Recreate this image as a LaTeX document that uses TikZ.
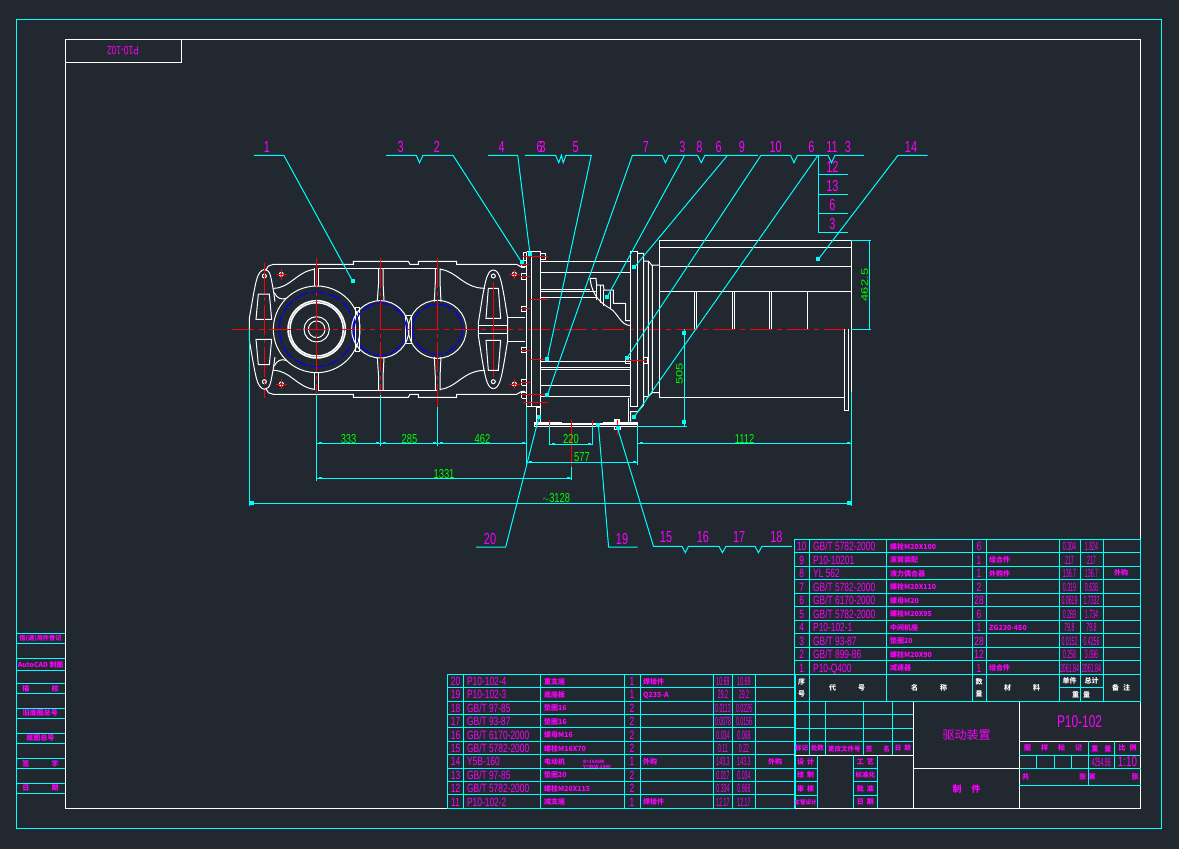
\documentclass[tikz,border=0pt]{standalone}
\usepackage{fontspec}
\setmainfont{Liberation Sans}
\newfontfamily\cjk{Noto Sans CJK SC}
\definecolor{bgc}{HTML}{212830}
\definecolor{cy}{HTML}{00FFFF}
\definecolor{mg}{HTML}{FF00FF}
\definecolor{gn}{HTML}{00FF00}
\definecolor{rd}{HTML}{FF0000}
\definecolor{bl}{HTML}{0000FF}
\tikzset{
  wh/.style={draw=white,line width=1pt},
  thk/.style={draw=white,line width=1.5pt},
  cl/.style={draw=cy,line width=1pt},
  rdl/.style={draw=rd,line width=1pt},
  cen/.style={draw=rd,line width=1pt,dash pattern=on 22pt off 5pt on 5pt off 5pt},
  bll/.style={draw=bl,line width=1.1pt,dash pattern=on 14pt off 3pt},
  zoomA/.style={shift={(240,230)},x=.33333pt,y=-.33333pt},
  zoomM/.style={shift={(240,428.667)},x=.33333pt,y=.33333pt},
  zoomB/.style={shift={(510,230)},x=.33333pt,y=-.33333pt},
  txt/.style={text=mg,inner sep=0pt,transform shape,xscale=.7,font=\fontsize{12}{12}\selectfont},
  cjt/.style={text=mg,inner sep=0pt,font=\fontsize{7}{7}\selectfont\cjk\bfseries},
  lab/.style={text=mg,inner sep=0pt,transform shape,xscale=.68,font=\fontsize{16}{16}\selectfont},
  dimt/.style={text=gn,inner sep=0pt,transform shape,xscale=.72,font=\fontsize{13}{13}\selectfont},
}
\newcommand\rowA[9]{% y no code name qty mat w1 w2 note
 \node[txt,anchor=base] (a#2) at (801.7,#1+4.5) {#2};
 \node[txt,anchor=base west] (ac#2) at (813,#1+4.5) {#3};
 \node[cjt,anchor=base west] (an#2) at (890,#1+3) {#4};
 \node[txt,anchor=base] (aq#2) at (979,#1+4.5) {#5};
 \node[cjt,anchor=base west] (am#2) at (989,#1+3) {#6};
 \node[txt,anchor=base,xscale=.62] (aw#2) at (1069.5,#1+4.5) {#7};
 \node[txt,anchor=base,xscale=.62] (ax#2) at (1091.5,#1+4.5) {#8};
 \node[cjt] (ar#2) at (1121,#1) {#9};
}
\newcommand\rowB[9]{%
 \node[txt,anchor=base] (b#2) at (455.5,#1+4.5) {#2};
 \node[txt,anchor=base west] (bc#2) at (467,#1+4.5) {#3};
 \node[cjt,anchor=base west] (bn#2) at (544,#1+3) {#4};
 \node[txt,anchor=base] (bq#2) at (632,#1+4.5) {#5};
 \node[cjt,anchor=base west] (bm#2) at (643,#1+3) {#6};
 \node[txt,anchor=base,xscale=.62] (bw#2) at (723,#1+4.5) {#7};
 \node[txt,anchor=base,xscale=.62] (bx#2) at (744,#1+4.5) {#8};
 \node[cjt] (br#2) at (775,#1) {#9};
}
\newcommand\sq[2]{\fill[cy] (#1-2,#2-2) rectangle (#1+2,#2+2);}
\newcommand\tk[2]{\fill[cy] (#1-1.5,#2-1) rectangle (#1+1.5,#2+1);}
\newcommand\gearhalf{%
 \draw[wh] (78,120)--(85,108)--(100,103)--(340,103)--(340,94)--(505,94)--(510,103)--(535,103)--(535,94)--(650,94)--(650,103)--(830,103)--(845,112)--(855,112);
 \draw[wh] (235,115)--(590,115);
 \draw[thk] (223,115)--(223,167) (236,115)--(236,167);
 \draw[wh] (416,115)--(416,155)--(412,212) (429,115)--(429,155)--(432,212);
 \draw[wh] (586,115)--(586,155)--(583,215) (600,115)--(600,155)--(603,215);
 \draw[wh] (223,118) .. controls (170,125) and (150,175) .. (100,175);
 \draw[wh] (600,118) .. controls (650,122) and (670,175) .. (735,175);
 \draw[wh] (103,188) .. controls (110,205) and (125,210) .. (138,205);
 % left foot
 \draw[wh] (73,118) .. controls (50,125) and (48,150) .. (28,265) -- (28,298);
 \draw[wh] (73,118) .. controls (92,120) and (92,140) .. (100,180) -- (105,215);
 \draw[wh] (55,192)--(88,192)--(95,268)--(48,268)--cycle;
 % right foot
 \draw[wh] (760,120) .. controls (740,122) and (735,150) .. (715,280) -- (715,298);
 \draw[wh] (760,120) .. controls (780,122) and (785,150) .. (803,265) -- (803,298);
 \draw[wh] (745,175)--(775,175)--(782,265)--(738,265)--cycle;
 \draw[wh] (715,285)--(803,285) (803,262)--(855,262);
 % links between housings
 \draw[wh] (345,298)--(345,232)--(360,232) (358,232)--(358,298);
 \draw[wh] (497,298)--(497,255)--(515,255)--(515,298);
 % lugs on the flange
 \draw[wh] (845,92)--(858,92) (845,92)--(845,108)--(858,108);
 \draw[wh] (845,130)--(845,148)--(858,148) (845,130)--(858,130);
 \draw[wh] (845,228)--(845,243)--(858,243) (845,228)--(858,228);
 % bolts
 \draw[rdl] (843,103)--(868,103) (843,140)--(868,140) (843,235)--(868,235);
 \draw[rdl] (850,78)--(900,78);
}
\begin{document}
\begin{tikzpicture}[x=1pt,y=-1pt]
\useasboundingbox (0,0) rectangle (1179,849);
\fill[bgc] (0,0) rectangle (1179,849);
% frames
\draw[cl] (16,19) rectangle (1161,828);
\draw[wh] (65,39) rectangle (1140.7,808.3);
\draw[wh] (65,62)--(181,62)--(181,39);
\node[txt,rotate=180] (sheetno) at (123,50.5) {P10-102};
% left stamp
\foreach \yy in {633.3,643.3,658.3,670,683.3,693.3,708.3,718.3,733.3,743.3,758.3,768.3,783.3,793.3}
  \draw[cl] (16,\yy)--(65,\yy);
\node[cjt,font=\fontsize{6.2}{7}\selectfont\cjk\bfseries] (s1) at (40.5,638.3) {借(通)用件登记};
\node[cjt,font=\fontsize{6.8}{7}\selectfont\cjk\bfseries] (s2) at (40.5,664.5) {AutoCAD 制图};
\node[cjt] (s3) at (40.5,688.3) {描\hspace{22pt}校};
\node[cjt] (s4) at (40.5,713.3) {旧底图总号};
\node[cjt] (s5) at (40.5,738.3) {底图总号};
\node[cjt] (s6) at (40.5,763.3) {签\hspace{22pt}字};
\node[cjt] (s7) at (40.5,788.3) {日\hspace{22pt}期};
% parts list, upper
\foreach \xx in {794,809.5,886,972,986,1059,1080,1103,1140.7}
  \draw[cl] (\xx,539.3)--(\xx,701.7);
\foreach \i in {0,...,10}
  \draw[cl] (794,539.3+13.5*\i)--(1140.7,539.3+13.5*\i);
\draw[cl] (794,701.7)--(1140.7,701.7) (1059,687.6)--(1103,687.6);
\rowA{546}{10}{GB/T 5782-2000}{螺栓M20X100}{6}{}{0.304}{1.824}{}
\rowA{559.5}{9}{P10-10201}{滚筒装配}{1}{组合件}{217}{217}{}
\rowA{573}{8}{YL 562}{液力偶合器}{1}{外购件}{136.7}{136.7}{外购}
\rowA{586.5}{7}{GB/T 5782-2000}{螺栓M20X110}{2}{}{0.319}{0.638}{}
\rowA{600}{6}{GB/T 6170-2000}{螺母M20}{28}{}{0.0619}{1.7332}{}
\rowA{613.5}{5}{GB/T 5782-2000}{螺栓M20X95}{6}{}{0.289}{1.734}{}
\rowA{627}{4}{P10-102-1}{中间机座}{1}{ZG230-450}{79.8}{79.8}{}
\rowA{640.5}{3}{GB/T 93-87}{垫圈20}{28}{}{0.0152}{0.4256}{}
\rowA{654}{2}{GB/T 899-86}{螺柱M20X90}{12}{}{0.258}{3.096}{}
\rowA{667.5}{1}{P10-Q400}{减速器}{1}{组合件}{2061.84}{2061.84}{}
\node[cjt,text=white] (h1c) at (801.7,682) {序};
\node[cjt,text=white] (h1d) at (801.7,693.5) {号};
\node[cjt,text=white] (h2) at (847,688) {代\hspace{22pt}号};
\node[cjt,text=white] (h3) at (929,688) {名\hspace{22pt}称};
\node[cjt,text=white] (h4) at (979,682) {数};
\node[cjt,text=white] (h4b) at (979,693.5) {量};
\node[cjt,text=white] (h5) at (1022,688) {材\hspace{22pt}料};
\node[cjt,text=white] (h6) at (1069.5,681) {单件};
\node[cjt,text=white] (h7) at (1091.5,681) {总计};
\node[cjt,text=white] (h8) at (1081,695) {重\hspace{4pt}量};
\node[cjt,text=white] (h9) at (1121,688) {备\hspace{4pt}注};
% parts list, lower
\foreach \xx in {447.3,463.7,540.3,624.3,640,713.3,732.3,755.3,795}
  \draw[cl] (\xx,674.3)--(\xx,808.3);
\foreach \i in {0,...,10}
  \draw[cl] (447.3,674.3+13.4*\i)--(795,674.3+13.4*\i);
\rowB{681}{20}{P10-102-4}{重支座}{1}{焊接件}{10.69}{10.69}{}
\rowB{694.4}{19}{P10-102-3}{底座板}{1}{Q235-A}{29.2}{29.2}{}
\rowB{707.8}{18}{GB/T 97-85}{垫圈16}{2}{}{0.0113}{0.0226}{}
\rowB{721.2}{17}{GB/T 93-87}{垫圈16}{2}{}{0.0078}{0.0156}{}
\rowB{734.6}{16}{GB/T 6170-2000}{螺母M16}{2}{}{0.034}{0.068}{}
\rowB{748}{15}{GB/T 5782-2000}{螺栓M16X70}{2}{}{0.11}{0.22}{}
\rowB{761.4}{14}{Y5B-160}{电动机}{1}{外购}{143.3}{143.3}{外购}
\rowB{774.8}{13}{GB/T 97-85}{垫圈20}{2}{}{0.017}{0.034}{}
\rowB{788.2}{12}{GB/T 5782-2000}{螺栓M20X115}{2}{}{0.334}{0.668}{}
\rowB{801.6}{11}{P10-102-2}{减支座}{1}{焊接件}{12.17}{12.17}{}
\node[cjt,font=\fontsize{4.5}{5}\selectfont\cjk\bfseries,align=left] (motor) at (597,765) {B=160kW\\Y=4kW,1440};
% title block, left
\foreach \yy in {714.3,728.3,741.7}
  \draw[cl] (794,\yy)--(913.3,\yy);
\foreach \xx in {809.3,825.3,863.3,892.3}
  \draw[cl] (\xx,701.7)--(\xx,755.3);
\draw[cl] (794,701.7)--(794,808.3);
\draw[wh] (794,755.3)--(913.3,755.3);
\foreach \xx in {817.3,853.3,877.3}
  \draw[cl] (\xx,755.3)--(\xx,808.3);
\foreach \yy in {768.3,781.7,795.3}
  \draw[cl] (794,\yy)--(817.3,\yy) (853.3,\yy)--(877.3,\yy);
\node[cjt,font=\fontsize{6.5}{7}\selectfont\cjk\bfseries] (t1) at (801.7,748.5) {标记};
\node[cjt,font=\fontsize{6.5}{7}\selectfont\cjk\bfseries] (t2) at (817.3,748.5) {处数};
\node[cjt,font=\fontsize{6.5}{7}\selectfont\cjk\bfseries] (t3) at (844.3,748.5) {更改文件号};
\node[cjt,font=\fontsize{6.5}{7}\selectfont\cjk\bfseries] (t4) at (877.8,748.5) {签\hspace{11pt}名};
\node[cjt,font=\fontsize{6.5}{7}\selectfont\cjk\bfseries] (t5) at (902.8,748.5) {日\hspace{3pt}期};
\node[cjt] (t6) at (805.6,762) {设\hspace{3pt}计};
\node[cjt] (t7) at (805.6,775) {绘\hspace{3pt}制};
\node[cjt] (t8) at (805.6,788.5) {审\hspace{3pt}核};
\node[cjt,font=\fontsize{5.6}{7}\selectfont\cjk\bfseries] (t9) at (805.6,802) {主管设计};
\node[cjt] (t10) at (865.3,762) {工\hspace{3pt}艺};
\node[cjt,font=\fontsize{6.5}{7}\selectfont\cjk\bfseries] (t11) at (865.3,775) {标准化};
\node[cjt] (t12) at (865.3,788.5) {批\hspace{3pt}准};
\node[cjt] (t13) at (865.3,802) {日\hspace{3pt}期};
% title block, right
\draw[cl] (913.3,701.7)--(1140.7,701.7);
\draw[wh] (913.3,701.7)--(913.3,808.3) (1019.3,701.7)--(1019.3,808.3);
\draw[wh] (913.3,768.3)--(1019.3,768.3) (1019.3,741.3)--(1140.7,741.3);
\draw[cl] (1019.3,755.3)--(1140.7,755.3) (1019.3,768.3)--(1140.7,768.3) (1019.3,785.3)--(1140.7,785.3);
\draw[cl] (1088.3,741.3)--(1088.3,785.3) (1114.3,741.3)--(1114.3,768.3);
\draw[cl] (1036.3,755.3)--(1036.3,768.3) (1054.3,755.3)--(1054.3,768.3) (1071.3,755.3)--(1071.3,768.3);
\node[cjt,font=\fontsize{12}{12}\selectfont\cjk] (tt) at (966.5,735) {驱动装置};
\node[cjt,font=\fontsize{9}{9}\selectfont\cjk\bfseries] (tz) at (966.5,789) {制\hspace{10pt}件};
\node[txt,font=\fontsize{17}{17}\selectfont] (tp) at (1079.5,721.5) {P10-102};
\node[cjt] (u1) at (1053,748.3) {图\hspace{10pt}样\hspace{10pt}标\hspace{10pt}记};
\node[cjt] (u2) at (1101.3,748.3) {重\hspace{6pt}量};
\node[cjt] (u3) at (1127.5,748.3) {比\hspace{4pt}例};
\node[txt,xscale=.62] (u4) at (1101.3,762) {4254.86};
\node[txt,font=\fontsize{14}{14}\selectfont] (u5) at (1127.5,762) {1:10};
\node[cjt] (u6) at (1054,777) {共\hspace{50pt}张};
\node[cjt] (u7) at (1113.5,777) {第\hspace{36pt}张};
% === gearbox ===
\begin{scope}[zoomA]\gearhalf
 \draw[wh] (230,298) circle[radius=130];
 \draw[thk] (230,298) circle[radius=86] (230,298) circle[radius=80];
 \draw[wh] (230,298) circle[radius=38] (230,298) circle[radius=25];
 \draw[bll] (230,298) circle[radius=112];
 \draw[wh] (421,298) circle[radius=86];
 \draw[bll] (421,298) circle[radius=78];
 \draw[wh] (592,298) circle[radius=87];
 \draw[bll] (592,298) circle[radius=75];
 \draw[wh] (73,138) circle[radius=6] (73,455) circle[radius=6] (760,138) circle[radius=6] (760,455) circle[radius=6];
 \draw[wh] (124,133) circle[radius=6] (124,462) circle[radius=6] (823,132) circle[radius=6] (823,462) circle[radius=6];
 \draw[cen] (-24,298)--(1860,298);
 \draw[rdl,dash pattern=on 30pt off 4pt on 4pt off 4pt] (73,100)--(73,503) (230,85)--(230,490) (421,85)--(421,497) (592,85)--(592,530);
 \draw[rdl] (760,155)--(760,440);
 \draw[rdl] (108,133)--(140,133) (124,117)--(124,149) (108,462)--(140,462) (124,446)--(124,478);
 \draw[rdl] (807,132)--(839,132) (823,116)--(823,148) (807,462)--(839,462) (823,446)--(823,478);
\end{scope}
\begin{scope}[zoomM]\gearhalf\end{scope}
% === coupling housing and motor ===
\begin{scope}[zoomB]
 \draw[wh] (50,65)--(50,530) (65,65)--(65,530) (92,65)--(92,530) (50,65)--(92,65) (50,530)--(92,530);
 \draw[wh] (40,68)--(50,68) (40,68)--(40,90)--(50,90) (92,70)--(105,70)--(105,88)--(92,88);
 \draw[thk] (92,95)--(360,95) (92,500)--(360,500);
 \draw[wh] (92,127)--(360,127) (92,178)--(240,178) (92,185)--(260,185) (92,203)--(262,203);
 \draw[wh] (240,145)--(258,145)--(260,165)--(280,165)--(282,180)--(310,180)--(310,220)--(347,220)--(347,272)--(362,272);
 \draw[wh] (260,165)--(260,210) (270,165)--(270,218) (280,180)--(280,228) (302,180)--(302,238);
 \draw[wh] (240,145) .. controls (245,180) and (255,210) .. (300,235) .. controls (325,250) and (330,285) .. (362,287);
 \draw[wh] (92,393)--(360,393) (92,411)--(360,411) (92,418)--(360,418) (92,465)--(360,465);
 \draw[wh] (361,65)--(383,65) (361,65)--(361,530)--(383,530) (383,65)--(383,530);
 \draw[wh] (383,70)--(401,70)--(401,525)--(383,545)--(362,545)--(362,575);
 \draw[wh] (401,93)--(415,93)--(415,500)--(401,500) (415,93)--(425,105)--(448,105);
 \draw[wh] (427,105)--(427,488) (415,500)--(427,488)--(448,488);
 \draw[wh] (355,503)--(355,575);
 \draw[wh] (448,30)--(1025,30) (448,30)--(448,502)--(1003,502) (1025,30)--(1025,485);
 \draw[wh] (448,52)--(1025,52) (448,108)--(1025,108) (448,184)--(1025,184);
 \draw[wh] (1003,298)--(1003,542)--(1016,542)--(1016,298);
 \draw[wh] (553,184)--(553,298) (560,184)--(560,298) (668,184)--(668,298) (674,184)--(674,298) (779,184)--(779,298) (785,184)--(785,298);
 \draw[thk] (893,184)--(893,298);
 \draw[wh] (78,533)--(92,533) (78,533)--(78,577) (92,533)--(92,577);
 \draw[wh] (73,577)--(155,577)--(155,582) (280,582)--(280,577)--(381,577);
 \draw[thk] (73,582)--(381,582) (73,589)--(381,589);
 \draw[wh] (73,577)--(73,589) (381,577)--(381,589);
 \fill[white] (313,568) rectangle (330,578);
 \draw[wh] (313,590)--(313,598)--(330,598)--(330,590);
 \draw[rdl] (40,78)--(113,78) (30,103)--(58,103) (35,140)--(60,140) (60,208)--(113,208) (35,235)--(60,235) (35,362)--(60,362) (60,388)--(113,388) (35,458)--(60,458) (35,494)--(113,494) (40,517)--(113,517);
 \draw[rdl] (350,391)--(410,391);
 \draw[wh] (347,382)--(360,382) (347,382)--(347,400)--(360,400) (403,382)--(411,382)--(411,400)--(403,400);
 \draw[rdl] (118,570)--(118,592) (184,570)--(184,610) (247,570)--(247,592) (322,570)--(322,615);
\end{scope}
% === balloons and leaders ===
\draw[cl] (253.8,155.3)--(283.8,155.3)--(352.7,281.3); \sq{352.7}{281.3}
\draw[cl] (386,155.3)--(416.3,155.3)--(419.5,162.7)--(423,155.3)--(453,155.3)--(521.7,262.3); \sq{521.7}{262.3}
\draw[cl] (488,155.3)--(517.7,155.3)--(530,254); \sq{530}{254}
\draw[cl] (524.8,155.3)--(555.6,155.3)--(558.8,162.7)--(561.4,155.3)--(563.2,162.7)--(565.9,155.3)--(591.3,155.3)--(547.3,359.3); \sq{547.3}{359.3}
\draw[cl] (547.3,395.3)--(632.4,155.3)--(662,155.3)--(665.4,162.7)--(669,155.3)--(697.5,155.3)--(701.2,162.7)--(705,155.3)--(757.9,155.3); \sq{547.3}{395.3}
\draw[cl] (684.6,155.3)--(607.3,296.7); \sq{607.3}{296.7}
\draw[cl] (727.5,155.3)--(634.3,267.3); \sq{634.3}{267.3}
\draw[cl] (626.7,358.3)--(761,155.3)--(790.5,155.3)--(794,162.7)--(797.5,155.3)--(828,155.3)--(831.5,162.7)--(835,155.3)--(864,155.3); \sq{626.7}{358.3}
\draw[cl] (634.3,416.7)--(818,155.3); \sq{634.3}{416.7}
\draw[cl] (818,155.3)--(818,232.3)--(847.6,232.3) (818,174)--(847.6,174) (818,194.3)--(847.6,194.3) (818,213.3)--(847.6,213.3);
\draw[cl] (818.3,259.3)--(898,155.3)--(927.5,155.3); \sq{818.3}{259.3}
\draw[cl] (476,547)--(505.7,547)--(539,416.7); \sq{539}{416.7}
\draw[cl] (637.6,547)--(608.6,547)--(598.4,425); \sq{598.4}{425}
\draw[cl] (617.6,428.3)--(653.5,546.3)--(682,546.3)--(685.3,552.7)--(688.5,546.3)--(719,546.3)--(722.4,552.7)--(726,546.3)--(755,546.3)--(758.4,552.7)--(762,546.3)--(791.8,546.3); \sq{617.6}{428.3}
\foreach \n/\xx/\yy in {1/267/147,3/400.7/147,2/436.9/147,4/501.6/147,6/539.6/147,3/542.7/147,5/575.7/147,7/645.8/147,3/682.4/147,8/699.4/147,6/718.6/147,9/741.8/147,10/775.7/147,6/811.4/147,11/832/147,3/848/147,14/911/147,12/832.4/166.7,13/832.4/185.5,6/832.4/205,3/832.4/224,20/490/538.7,19/622/539,15/666/537,16/702.9/537,17/739.2/537,18/776.3/537}
  {\node[lab] at (\xx,\yy) {\n};}
% === dimensions ===
\draw[cl] (249.4,329)--(249.4,506) (851.4,391.7)--(851.4,506);
\draw[cl] (253,503.3)--(847,503.3); \sq{252}{503.3}\sq{849}{503.3}
\draw[cl] (316.3,394)--(316.3,481) (316.3,478.3)--(571.4,478.3) (571.4,467)--(571.4,480);
\draw[rdl] (571.4,420)--(571.4,467);
\draw[cl] (527,462.3)--(637,462.3) (526.5,407)--(526.5,465) (637.6,427)--(637.6,465);
\draw[cl] (549.4,425)--(549.4,445) (592.2,425)--(592.2,445) (549.4,444.3)--(592.2,444.3);
\draw[cl] (316.3,443.3)--(526.5,443.3) (637.6,443.3)--(851.4,443.3);
\draw[cl] (380.4,395)--(380.4,446) (437.6,407)--(437.6,446);
\foreach \xx/\yy in {320/443.3,377/443.3,384/443.3,434/443.3,441/443.3,523/443.3,641/443.3,848/443.3,553/444.3,589/444.3,530/462.3,634/462.3,320/478.3,568/478.3}
  {\tk{\xx}{\yy}}
\draw[cl] (684.3,329.3)--(684.3,426.7) (637,426.7)--(687,426.7); \sq{684.3}{333}\sq{684.3}{422}
\draw[cl] (851.4,240)--(871,240) (851.4,329.3)--(871,329.3) (869.3,240)--(869.3,329.3);
\node[dimt] (d1) at (348.6,438.7) {333};
\node[dimt] (d2) at (409.4,438.7) {285};
\node[dimt] (d3) at (482.4,438.7) {462};
\node[dimt] (d4) at (744.5,438.7) {1112};
\node[dimt] (d5) at (571,439) {220};
\node[dimt] (d6) at (582,457) {577};
\node[dimt] (d7) at (444,474) {1331};
\node[dimt] (d8) at (556.3,498) {$\sim$3128};
\node[dimt,rotate=90] (d9) at (679.3,374) {505};
\node[dimt,rotate=90] (d10) at (864.7,285) {462.5};
\end{tikzpicture}
\end{document}
